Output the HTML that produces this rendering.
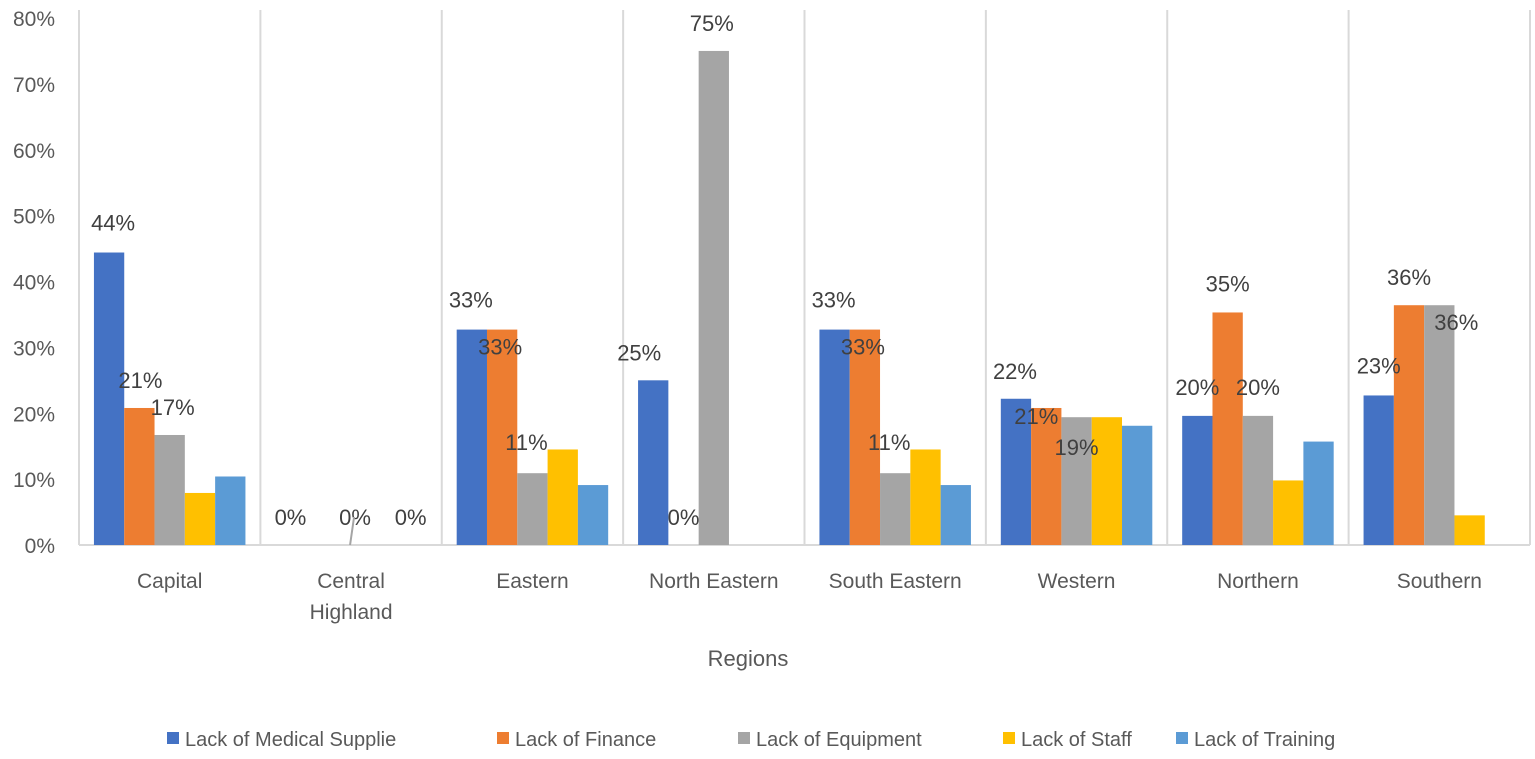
<!DOCTYPE html>
<html><head><meta charset="utf-8"><style>
body{margin:0;background:#fff;}
svg{display:block;font-family:"Liberation Sans",sans-serif;}
</style></head><body>
<svg id="c" width="1535" height="759"></svg>
<script>
const categories=["Capital","Central Highland","Eastern","North Eastern","South Eastern","Western","Northern","Southern"];
const seriesNames=["Lack of Medical Supplie","Lack of Finance","Lack of Equipment","Lack of Staff","Lack of Training"];
const supplies=[44.4,0,32.7,25,32.7,22.2,19.6,22.7];
const finance=[20.8,0,32.7,0,32.7,20.8,35.3,36.4];
const equipment=[16.7,0,10.9,75,10.9,19.4,19.6,36.4];
const staff=[7.9,0,14.5,0,14.5,19.4,9.8,4.5];
const training=[10.4,0,9.1,0,9.1,18.1,15.7,0];
const yTicks=[0,10,20,30,40,50,60,70,80];
// [category, series, text, dx, dy]
const labels=[[0,0,"44%",4,-30],[0,1,"21%",1,-28],[0,2,"17%",3,-28],
[1,0,"0%",0,-28],[1,2,"0%",4,-28],[1,4,"0%",-1,-28],
[2,0,"33%",-1,-30],[2,1,"33%",-2,17],[2,2,"11%",-6,-31],
[3,0,"25%",-14,-28],[3,1,"0%",0,-28],[3,2,"75%",-2,-28],
[4,0,"33%",-1,-30],[4,1,"33%",-2,17],[4,2,"11%",-6,-31],
[5,0,"22%",-1,-28],[5,1,"21%",-10,8],[5,2,"19%",0,30],
[6,0,"20%",0,-29],[6,1,"35%",0,-29],[6,2,"20%",0,-29],
[7,0,"23%",0,-30],[7,1,"36%",0,-28],[7,2,"36%",17,17]];
const colors=["#4472c4","#ed7d31","#a5a5a5","#ffc000","#5b9bd5"];
const series=[supplies,finance,equipment,staff,training];
const svg=document.getElementById('c');const NS="http://www.w3.org/2000/svg";
const x0=79,x1=1530,y0=545,y80=18;
const cw=(x1-x0)/categories.length,bw=30.3,off=(cw-5*bw)/2;
function y(v){return y0-(v/80)*(y0-y80);}
function bx(c,s){return x0+c*cw+off+s*bw;}
function mk(t,a,p){const e=document.createElementNS(NS,t);for(const k in a)e.setAttribute(k,a[k]);(p||svg).appendChild(e);return e;}
yTicks.forEach(v=>{const t=mk('text',{x:55,y:y(v)+8,'text-anchor':'end','font-size':21,fill:'#595959'});t.textContent=v+'%';

});
for(let i=0;i<=categories.length;i++){const l=mk('line',{x1:x0+i*cw,x2:x0+i*cw,y1:y80-8,y2:y0,stroke:'#d9d9d9','stroke-width':2});

}
const ax=mk('line',{x1:x0,x2:x1,y1:y0,y2:y0,stroke:'#d9d9d9','stroke-width':2});


series.forEach((arr,s)=>arr.forEach((v,c)=>{const r=mk('rect',{x:bx(c,s),y:y(v),width:bw,height:y0-y(v),fill:colors[s]});

}));
labels.forEach(L=>{const [c,s,txt,dx,dy]=L;const t=mk('text',{x:bx(c,s)+bw/2+dx,y:y(series[s][c])+dy+8,'text-anchor':'middle','font-size':22,fill:'#404040'});t.textContent=txt;

});
const ld=mk('line',{x1:bx(1,2)+bw/2-1,y1:y0,x2:bx(1,2)+bw/2+3,y2:y0-28,stroke:'#a5a5a5','stroke-width':2});


categories.forEach((n,c)=>{const cx=x0+c*cw+cw/2;const parts=n==="Central Highland"?["Central","Highland"]:[n];
parts.forEach((p,i)=>{const t=mk('text',{x:cx,y:588+i*31,'text-anchor':'middle','font-size':21,fill:'#595959'});t.textContent=p;

});});
const tt=mk('text',{x:748,y:666,'text-anchor':'middle','font-size':22,fill:'#595959'});tt.textContent="Regions";


const lx=[167,497,738,1003,1176];
seriesNames.forEach((n,i)=>{const g=mk('g',{});


mk('rect',{x:lx[i],y:732,width:12,height:12,fill:colors[i]},g);
const t=mk('text',{x:lx[i]+18,y:746,'font-size':20,fill:'#595959'},g);t.textContent=n;});
</script>
</body></html>
